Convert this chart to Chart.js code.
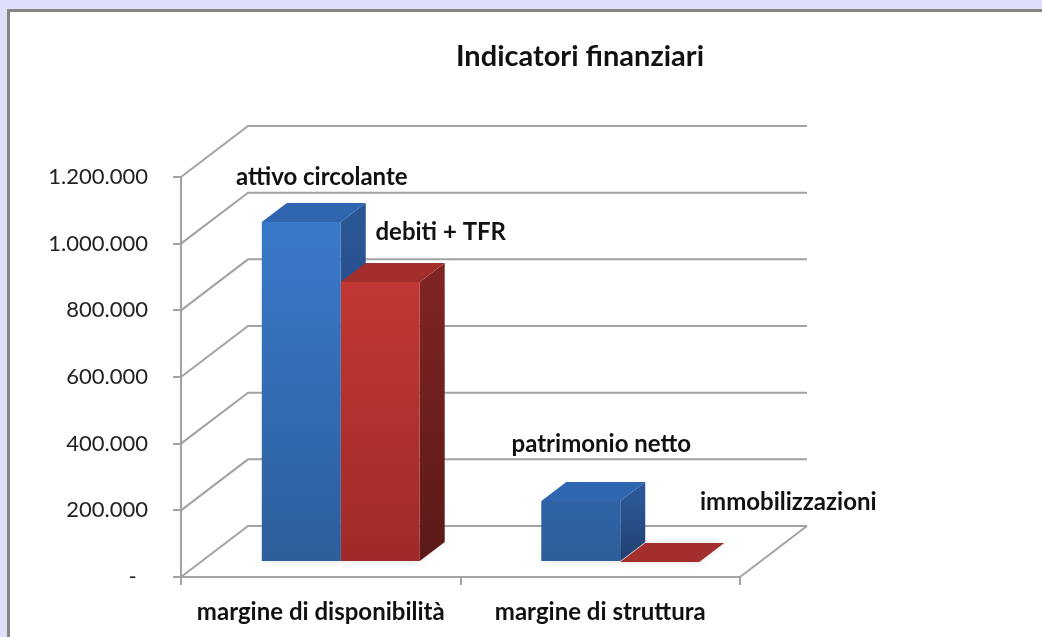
<!DOCTYPE html>
<html>
<head>
<meta charset="utf-8">
<script src="https://cdn.jsdelivr.net/npm/chart.js@4.4.1/dist/chart.umd.min.js"></script>
<style>
    html, body { margin: 0; padding: 0; }
    body { background: #dfdff9; width: 1042px; height: 637px; overflow: hidden; position: relative; }
    #frame { position: absolute; left: 7px; top: 9px; width: 1100px; height: 700px; background: #fff;
        border-left: 3px solid #858585; border-top: 3px solid #858585; }
    #chart { position: absolute; left: 0; top: 0; }
</style>
</head>
<body>
<div id="frame"></div>
<canvas id="chart" width="1042" height="637"></canvas>
<script>
    var categories = ['margine di disponibilità', 'margine di struttura'];
    var firstValues = [1020000, 183000];
    var secondValues = [840000, 0];
    var firstNames = ['attivo circolante', 'patrimonio netto'];
    var secondNames = ['debiti + TFR', 'immobilizzazioni'];
    var yMin = 0, yMax = 1200000, yStep = 200000;
    var chartTitle = 'Indicatori finanziari';

    var fontFamily = 'Lato, "Open Sans", sans-serif';
    var gridColor = '#a3a3a3';

    // fake 3d: depth of the floor/walls, where the bars sit, and bar thickness
    var depthX = 67, depthY = -51;
    var shiftX = 20, shiftY = -15;
    var barDX = 25, barDY = -19;

    var faceColors = [
        {front: ['#3c7ed2', '#2d5e9c'], side: ['#2b5695', '#1f3f6e'], top: '#3066b0'},
        {front: ['#d13d38', '#9e2b29'], side: ['#7e2523', '#5a1918'], top: '#a32f2c'}
    ];

    // label offset from the front-top-left corner of each bar
    var labelShift = [
        [[60, -45], [60, -57]],
        [[100, -50], [168, -60]]
    ];
    var barNames = [firstNames, secondNames];

    function thousands(v) {
        return String(v).replace(/\B(?=(\d{3})+(?!\d))/g, '.');
    }

    function frontGradient(ctx, area, c) {
        var g = ctx.createLinearGradient(0, area.top, 0, area.bottom);
        g.addColorStop(0, c[0]);
        g.addColorStop(1, c[1]);
        return g;
    }

    function poly(ctx, pts, fill) {
        ctx.beginPath();
        ctx.moveTo(pts[0][0], pts[0][1]);
        for (var i = 1; i < pts.length; i++) ctx.lineTo(pts[i][0], pts[i][1]);
        ctx.closePath();
        ctx.fillStyle = fill;
        ctx.fill();
    }

    var fake3d = {
        id: 'fake3d',
        beforeDatasetsDraw: function (chart) {
            var ctx = chart.ctx, area = chart.chartArea, y = chart.scales.y;
            ctx.save();
            ctx.strokeStyle = gridColor;
            ctx.lineWidth = 2;
            y.ticks.forEach(function (t) {
                var py = y.getPixelForValue(t.value);
                ctx.beginPath();
                ctx.moveTo(area.left, py);
                ctx.lineTo(area.left + depthX, py + depthY);
                ctx.lineTo(area.right + depthX, py + depthY);
                ctx.stroke();
            });
            ctx.beginPath();
            ctx.moveTo(area.right, area.bottom);
            ctx.lineTo(area.right + depthX, area.bottom + depthY);
            ctx.stroke();

            // shadows, then side and top faces; front faces come from chart.js
            chart.data.datasets.forEach(function (ds, di) {
                chart.getDatasetMeta(di).data.forEach(function (el) {
                    var p = el.getProps(['x', 'y', 'base', 'width'], true);
                    var L = p.x - p.width / 2 + shiftX, R = p.x + p.width / 2 + shiftX;
                    var B = p.base + shiftY;
                    ctx.save();
                    ctx.shadowColor = 'rgba(0,0,0,0.45)';
                    ctx.shadowBlur = 9;
                    ctx.shadowOffsetX = -3;
                    poly(ctx, [[L, B], [R, B], [R + barDX, B + barDY], [L + barDX, B + barDY]], 'rgba(120,120,120,0.3)');
                    ctx.restore();
                });
            });
            chart.data.datasets.forEach(function (ds, di) {
                var c = faceColors[di];
                chart.getDatasetMeta(di).data.forEach(function (el) {
                    var p = el.getProps(['x', 'y', 'base', 'width'], true);
                    var L = p.x - p.width / 2 + shiftX, R = p.x + p.width / 2 + shiftX;
                    var T = p.y + shiftY, B = p.base + shiftY;
                    var sg = ctx.createLinearGradient(0, T, 0, B);
                    sg.addColorStop(0, c.side[0]);
                    sg.addColorStop(1, c.side[1]);
                    poly(ctx, [[R, T], [R + barDX, T + barDY], [R + barDX, B + barDY], [R, B]], sg);
                    poly(ctx, [[L, T], [R, T], [R + barDX, T + barDY], [L + barDX, T + barDY]], c.top);
                });
            });
            ctx.restore();
            ctx.save();
            ctx.translate(shiftX, shiftY);
        },
        afterDatasetsDraw: function (chart) {
            var ctx = chart.ctx;
            ctx.restore();
            ctx.save();
            ctx.fillStyle = '#111';
            ctx.textAlign = 'center';
            ctx.textBaseline = 'middle';
            ctx.font = 'bold 24px ' + fontFamily;
            chart.data.datasets.forEach(function (ds, di) {
                chart.getDatasetMeta(di).data.forEach(function (el, i) {
                    var p = el.getProps(['x', 'y', 'width'], true);
                    var L = p.x - p.width / 2 + shiftX, T = p.y + shiftY;
                    ctx.fillText(barNames[di][i], L + labelShift[di][i][0], T + labelShift[di][i][1]);
                });
            });
            ctx.font = 'bold 29px ' + fontFamily;
            ctx.fillText(chartTitle, 580, 57);
            ctx.restore();
        }
    };

    var ctx = document.getElementById('chart').getContext('2d');
    var chart = new Chart(ctx, {
        type: 'bar',
        data: {
            labels: categories,
            datasets: [{
                label: 'serie 1',
                data: firstValues,
                backgroundColor: function (c) {
                    var a = c.chart.chartArea;
                    return a ? frontGradient(c.chart.ctx, a, faceColors[0].front) : faceColors[0].front[0];
                },
                borderWidth: 0
            }, {
                label: 'serie 2',
                data: secondValues,
                backgroundColor: function (c) {
                    var a = c.chart.chartArea;
                    return a ? frontGradient(c.chart.ctx, a, faceColors[1].front) : faceColors[1].front[0];
                },
                borderWidth: 0
            }]
        },
        options: {
            responsive: false,
            animation: false,
            events: [],
            barPercentage: 1,
            categoryPercentage: 0.565,
            layout: {
                padding: {left: 0, top: 177, right: 302, bottom: 0}
            },
            plugins: {
                legend: {display: false},
                title: {display: false},
                tooltip: {enabled: false}
            },
            scales: {
                x: {
                    afterFit: function (scale) { scale.height = 60; },
                    grid: {
                        offset: true,
                        drawOnChartArea: false,
                        tickLength: 8,
                        color: gridColor,
                        lineWidth: 2
                    },
                    border: {display: true, color: gridColor, width: 2},
                    ticks: {
                        color: '#111',
                        padding: 13,
                        font: {family: fontFamily, size: 24, weight: 'bold'}
                    }
                },
                y: {
                    min: yMin,
                    max: yMax,
                    afterFit: function (scale) { scale.width = 181; },
                    grid: {
                        drawOnChartArea: false,
                        tickLength: 8,
                        color: gridColor,
                        lineWidth: 2
                    },
                    border: {display: true, color: gridColor, width: 2},
                    ticks: {
                        stepSize: yStep,
                        padding: 25,
                        color: '#222',
                        font: {family: fontFamily, size: 22},
                        callback: function (v) {
                            return v === 0 ? '-  ' : thousands(v);
                        }
                    }
                }
            }
        },
        plugins: [fake3d]
    });
</script>
</body>
</html>
